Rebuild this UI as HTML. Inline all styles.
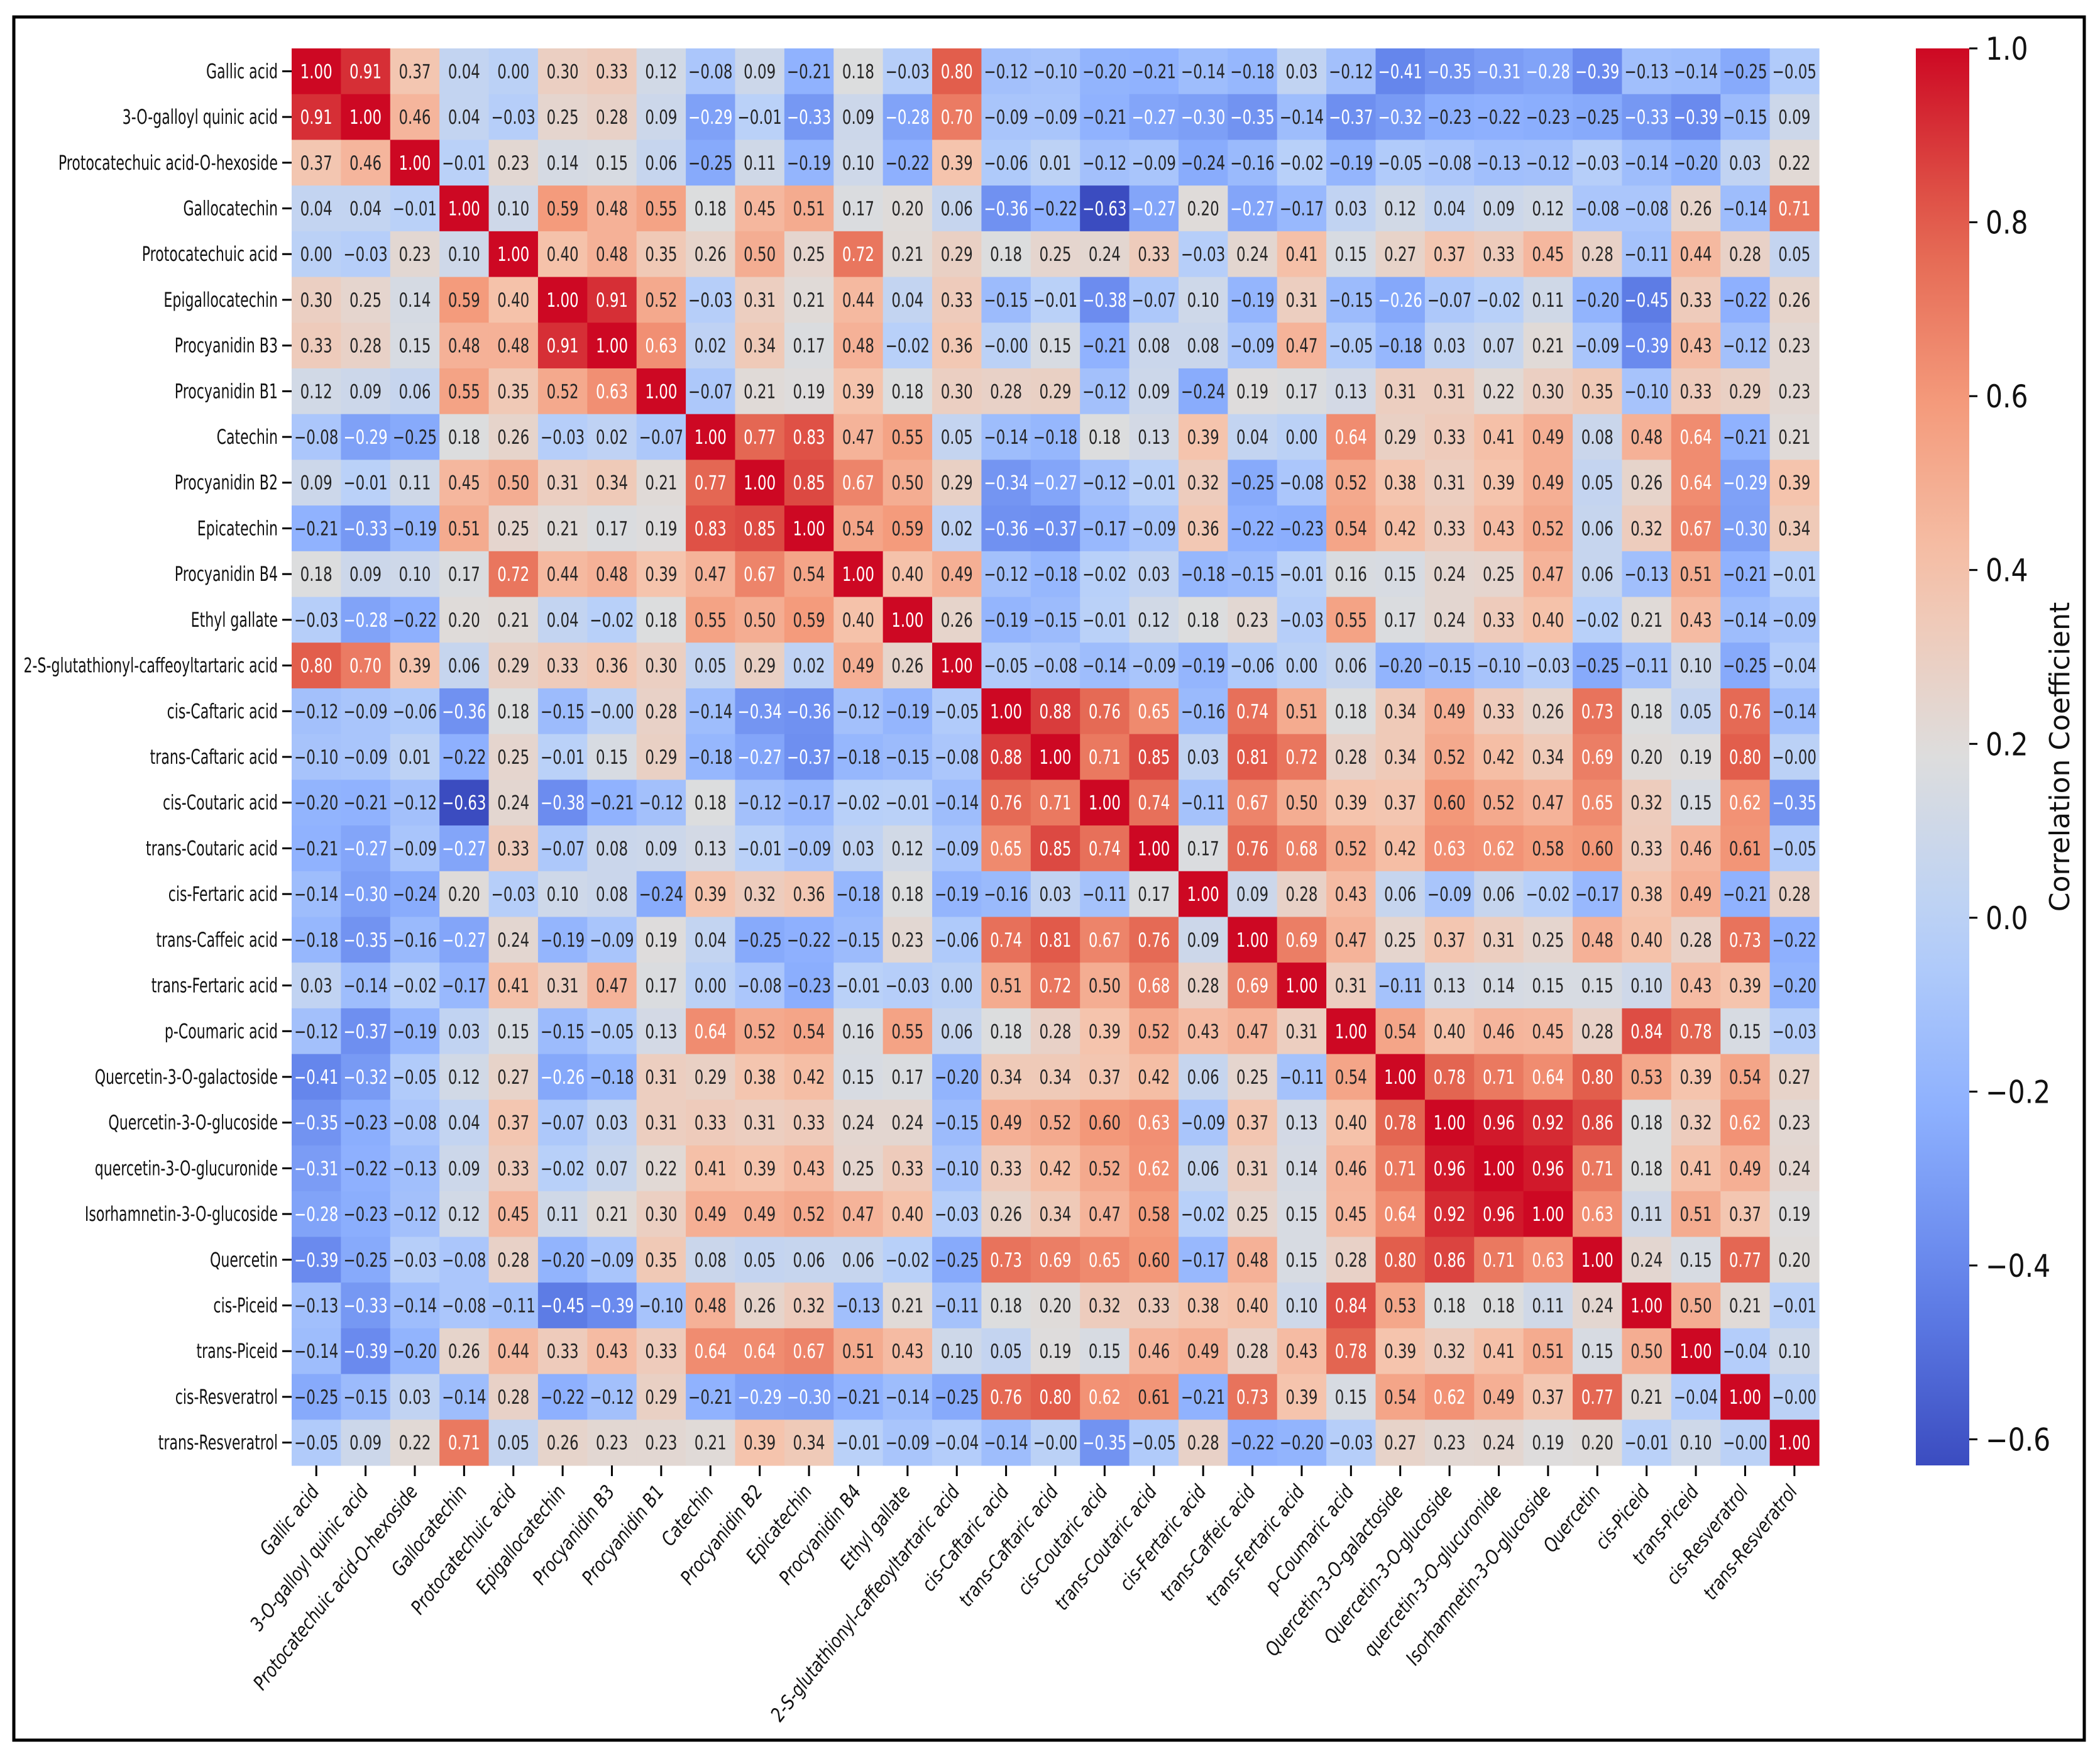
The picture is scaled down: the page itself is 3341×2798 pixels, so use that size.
<!DOCTYPE html>
<html><head><meta charset="utf-8"><style>
html,body{margin:0;padding:0;background:#fff}
svg text{font-family:"DejaVu Sans","Liberation Sans",sans-serif}
</style></head><body>
<svg id="chart" width="3341" height="2793" xmlns="http://www.w3.org/2000/svg">
<rect x="22" y="27" width="3294" height="2741" fill="#fff" stroke="#000" stroke-width="5"/>
<defs><linearGradient id="cbg" x1="0" y1="1" x2="0" y2="0"></linearGradient></defs>
<g id="cells"></g><g id="ylab"></g><g id="xlab"></g><g id="cbar"></g>
</svg>
<script>
const labels=["Gallic acid","3-O-galloyl quinic acid","Protocatechuic acid-O-hexoside","Gallocatechin","Protocatechuic acid","Epigallocatechin","Procyanidin B3","Procyanidin B1","Catechin","Procyanidin B2","Epicatechin","Procyanidin B4","Ethyl gallate","2-S-glutathionyl-caffeoyltartaric acid","cis-Caftaric acid","trans-Caftaric acid","cis-Coutaric acid","trans-Coutaric acid","cis-Fertaric acid","trans-Caffeic acid","trans-Fertaric acid","p-Coumaric acid","Quercetin-3-O-galactoside","Quercetin-3-O-glucoside","quercetin-3-O-glucuronide","Isorhamnetin-3-O-glucoside","Quercetin","cis-Piceid","trans-Piceid","cis-Resveratrol","trans-Resveratrol"];
const rowsText=[
"1.00 0.91 0.37 0.04 0.00 0.30 0.33 0.12 -0.08 0.09 -0.21 0.18 -0.03 0.80 -0.12 -0.10 -0.20 -0.21 -0.14 -0.18 0.03 -0.12 -0.41 -0.35 -0.31 -0.28 -0.39 -0.13 -0.14 -0.25 -0.05",
"0.91 1.00 0.46 0.04 -0.03 0.25 0.28 0.09 -0.29 -0.01 -0.33 0.09 -0.28 0.70 -0.09 -0.09 -0.21 -0.27 -0.30 -0.35 -0.14 -0.37 -0.32 -0.23 -0.22 -0.23 -0.25 -0.33 -0.39 -0.15 0.09",
"0.37 0.46 1.00 -0.01 0.23 0.14 0.15 0.06 -0.25 0.11 -0.19 0.10 -0.22 0.39 -0.06 0.01 -0.12 -0.09 -0.24 -0.16 -0.02 -0.19 -0.05 -0.08 -0.13 -0.12 -0.03 -0.14 -0.20 0.03 0.22",
"0.04 0.04 -0.01 1.00 0.10 0.59 0.48 0.55 0.18 0.45 0.51 0.17 0.20 0.06 -0.36 -0.22 -0.63 -0.27 0.20 -0.27 -0.17 0.03 0.12 0.04 0.09 0.12 -0.08 -0.08 0.26 -0.14 0.71",
"0.00 -0.03 0.23 0.10 1.00 0.40 0.48 0.35 0.26 0.50 0.25 0.72 0.21 0.29 0.18 0.25 0.24 0.33 -0.03 0.24 0.41 0.15 0.27 0.37 0.33 0.45 0.28 -0.11 0.44 0.28 0.05",
"0.30 0.25 0.14 0.59 0.40 1.00 0.91 0.52 -0.03 0.31 0.21 0.44 0.04 0.33 -0.15 -0.01 -0.38 -0.07 0.10 -0.19 0.31 -0.15 -0.26 -0.07 -0.02 0.11 -0.20 -0.45 0.33 -0.22 0.26",
"0.33 0.28 0.15 0.48 0.48 0.91 1.00 0.63 0.02 0.34 0.17 0.48 -0.02 0.36 -0.00 0.15 -0.21 0.08 0.08 -0.09 0.47 -0.05 -0.18 0.03 0.07 0.21 -0.09 -0.39 0.43 -0.12 0.23",
"0.12 0.09 0.06 0.55 0.35 0.52 0.63 1.00 -0.07 0.21 0.19 0.39 0.18 0.30 0.28 0.29 -0.12 0.09 -0.24 0.19 0.17 0.13 0.31 0.31 0.22 0.30 0.35 -0.10 0.33 0.29 0.23",
"-0.08 -0.29 -0.25 0.18 0.26 -0.03 0.02 -0.07 1.00 0.77 0.83 0.47 0.55 0.05 -0.14 -0.18 0.18 0.13 0.39 0.04 0.00 0.64 0.29 0.33 0.41 0.49 0.08 0.48 0.64 -0.21 0.21",
"0.09 -0.01 0.11 0.45 0.50 0.31 0.34 0.21 0.77 1.00 0.85 0.67 0.50 0.29 -0.34 -0.27 -0.12 -0.01 0.32 -0.25 -0.08 0.52 0.38 0.31 0.39 0.49 0.05 0.26 0.64 -0.29 0.39",
"-0.21 -0.33 -0.19 0.51 0.25 0.21 0.17 0.19 0.83 0.85 1.00 0.54 0.59 0.02 -0.36 -0.37 -0.17 -0.09 0.36 -0.22 -0.23 0.54 0.42 0.33 0.43 0.52 0.06 0.32 0.67 -0.30 0.34",
"0.18 0.09 0.10 0.17 0.72 0.44 0.48 0.39 0.47 0.67 0.54 1.00 0.40 0.49 -0.12 -0.18 -0.02 0.03 -0.18 -0.15 -0.01 0.16 0.15 0.24 0.25 0.47 0.06 -0.13 0.51 -0.21 -0.01",
"-0.03 -0.28 -0.22 0.20 0.21 0.04 -0.02 0.18 0.55 0.50 0.59 0.40 1.00 0.26 -0.19 -0.15 -0.01 0.12 0.18 0.23 -0.03 0.55 0.17 0.24 0.33 0.40 -0.02 0.21 0.43 -0.14 -0.09",
"0.80 0.70 0.39 0.06 0.29 0.33 0.36 0.30 0.05 0.29 0.02 0.49 0.26 1.00 -0.05 -0.08 -0.14 -0.09 -0.19 -0.06 0.00 0.06 -0.20 -0.15 -0.10 -0.03 -0.25 -0.11 0.10 -0.25 -0.04",
"-0.12 -0.09 -0.06 -0.36 0.18 -0.15 -0.00 0.28 -0.14 -0.34 -0.36 -0.12 -0.19 -0.05 1.00 0.88 0.76 0.65 -0.16 0.74 0.51 0.18 0.34 0.49 0.33 0.26 0.73 0.18 0.05 0.76 -0.14",
"-0.10 -0.09 0.01 -0.22 0.25 -0.01 0.15 0.29 -0.18 -0.27 -0.37 -0.18 -0.15 -0.08 0.88 1.00 0.71 0.85 0.03 0.81 0.72 0.28 0.34 0.52 0.42 0.34 0.69 0.20 0.19 0.80 -0.00",
"-0.20 -0.21 -0.12 -0.63 0.24 -0.38 -0.21 -0.12 0.18 -0.12 -0.17 -0.02 -0.01 -0.14 0.76 0.71 1.00 0.74 -0.11 0.67 0.50 0.39 0.37 0.60 0.52 0.47 0.65 0.32 0.15 0.62 -0.35",
"-0.21 -0.27 -0.09 -0.27 0.33 -0.07 0.08 0.09 0.13 -0.01 -0.09 0.03 0.12 -0.09 0.65 0.85 0.74 1.00 0.17 0.76 0.68 0.52 0.42 0.63 0.62 0.58 0.60 0.33 0.46 0.61 -0.05",
"-0.14 -0.30 -0.24 0.20 -0.03 0.10 0.08 -0.24 0.39 0.32 0.36 -0.18 0.18 -0.19 -0.16 0.03 -0.11 0.17 1.00 0.09 0.28 0.43 0.06 -0.09 0.06 -0.02 -0.17 0.38 0.49 -0.21 0.28",
"-0.18 -0.35 -0.16 -0.27 0.24 -0.19 -0.09 0.19 0.04 -0.25 -0.22 -0.15 0.23 -0.06 0.74 0.81 0.67 0.76 0.09 1.00 0.69 0.47 0.25 0.37 0.31 0.25 0.48 0.40 0.28 0.73 -0.22",
"0.03 -0.14 -0.02 -0.17 0.41 0.31 0.47 0.17 0.00 -0.08 -0.23 -0.01 -0.03 0.00 0.51 0.72 0.50 0.68 0.28 0.69 1.00 0.31 -0.11 0.13 0.14 0.15 0.15 0.10 0.43 0.39 -0.20",
"-0.12 -0.37 -0.19 0.03 0.15 -0.15 -0.05 0.13 0.64 0.52 0.54 0.16 0.55 0.06 0.18 0.28 0.39 0.52 0.43 0.47 0.31 1.00 0.54 0.40 0.46 0.45 0.28 0.84 0.78 0.15 -0.03",
"-0.41 -0.32 -0.05 0.12 0.27 -0.26 -0.18 0.31 0.29 0.38 0.42 0.15 0.17 -0.20 0.34 0.34 0.37 0.42 0.06 0.25 -0.11 0.54 1.00 0.78 0.71 0.64 0.80 0.53 0.39 0.54 0.27",
"-0.35 -0.23 -0.08 0.04 0.37 -0.07 0.03 0.31 0.33 0.31 0.33 0.24 0.24 -0.15 0.49 0.52 0.60 0.63 -0.09 0.37 0.13 0.40 0.78 1.00 0.96 0.92 0.86 0.18 0.32 0.62 0.23",
"-0.31 -0.22 -0.13 0.09 0.33 -0.02 0.07 0.22 0.41 0.39 0.43 0.25 0.33 -0.10 0.33 0.42 0.52 0.62 0.06 0.31 0.14 0.46 0.71 0.96 1.00 0.96 0.71 0.18 0.41 0.49 0.24",
"-0.28 -0.23 -0.12 0.12 0.45 0.11 0.21 0.30 0.49 0.49 0.52 0.47 0.40 -0.03 0.26 0.34 0.47 0.58 -0.02 0.25 0.15 0.45 0.64 0.92 0.96 1.00 0.63 0.11 0.51 0.37 0.19",
"-0.39 -0.25 -0.03 -0.08 0.28 -0.20 -0.09 0.35 0.08 0.05 0.06 0.06 -0.02 -0.25 0.73 0.69 0.65 0.60 -0.17 0.48 0.15 0.28 0.80 0.86 0.71 0.63 1.00 0.24 0.15 0.77 0.20",
"-0.13 -0.33 -0.14 -0.08 -0.11 -0.45 -0.39 -0.10 0.48 0.26 0.32 -0.13 0.21 -0.11 0.18 0.20 0.32 0.33 0.38 0.40 0.10 0.84 0.53 0.18 0.18 0.11 0.24 1.00 0.50 0.21 -0.01",
"-0.14 -0.39 -0.20 0.26 0.44 0.33 0.43 0.33 0.64 0.64 0.67 0.51 0.43 0.10 0.05 0.19 0.15 0.46 0.49 0.28 0.43 0.78 0.39 0.32 0.41 0.51 0.15 0.50 1.00 -0.04 0.10",
"-0.25 -0.15 0.03 -0.14 0.28 -0.22 -0.12 0.29 -0.21 -0.29 -0.30 -0.21 -0.14 -0.25 0.76 0.80 0.62 0.61 -0.21 0.73 0.39 0.15 0.54 0.62 0.49 0.37 0.77 0.21 -0.04 1.00 -0.00",
"-0.05 0.09 0.22 0.71 0.05 0.26 0.23 0.23 0.21 0.39 0.34 -0.01 -0.09 -0.04 -0.14 -0.00 -0.35 -0.05 0.28 -0.22 -0.20 -0.03 0.27 0.23 0.24 0.19 0.20 -0.01 0.10 -0.00 1.00"];
const cbTicks=[1.0,0.8,0.6,0.4,0.2,0.0,-0.2,-0.4,-0.6];
const vmin=-0.63, vmax=1.0;

const NS="http://www.w3.org/2000/svg";
const L=464,R=2894,T=77,B=2331,n=labels.length;
const cw=(R-L)/n, ch=(B-T)/n;
const CB={x:3048,w:85};
const SX=0.74, SY=0.69, SXL=0.82;
const stops=[[59,76,192],[98,130,234],[141,176,254],[184,208,249],[221,221,221],[245,196,173],[244,154,123],[226,96,77],[205,8,35]];
function cmap(t){t=Math.max(0,Math.min(1,t));const p=t*8,i=Math.min(7,Math.floor(p)),f=p-i;
 return stops[i].map((c,k)=>Math.round(c+(stops[i+1][k]-c)*f));}
function norm(v){return (v-vmin)/(vmax-vmin);}
function yv(v){return B-norm(v)*(B-T);}
function lum(c){const l=c.map(x=>{x/=255;return x<=0.03928?x/12.92:Math.pow((x+0.055)/1.055,2.4)});return 0.2126*l[0]+0.7152*l[1]+0.0722*l[2];}
function fmt(v){return (v<0||Object.is(v,-0))?"\u2212"+Math.abs(v).toFixed(2):v.toFixed(2);}
function mk(t,a,p){const e=document.createElementNS(NS,t);for(const k in a)e.setAttribute(k,a[k]);p.appendChild(e);return e;}
const cells=document.getElementById('cells');
rowsText.forEach((rs,i)=>{rs.trim().split(/\s+/).forEach((s,j)=>{const v=parseFloat(s);const c=cmap(norm(v));
 const r=mk('rect',{x:L+j*cw,y:T+i*ch,width:cw+0.6,height:ch+0.6,fill:`rgb(${c})`},cells);
 
 
 const tx=L+(j+0.5)*cw, ty=T+(i+0.5)*ch+11;
 const t=mk('text',{x:0,y:0,'text-anchor':'middle','font-size':31,fill:lum(c)>0.408?'#262626':'#fff',transform:`translate(${tx} ${ty}) scale(${SX} 1)`},cells);
 t.textContent=fmt(v);
 
 
});});
const yl=document.getElementById('ylab'), xl=document.getElementById('xlab');
labels.forEach((lb,i)=>{const cy=T+(i+0.5)*ch;
 mk('line',{x1:L-15,x2:L,y1:cy,y2:cy,stroke:'#000','stroke-width':3},yl);
 const t=mk('text',{x:0,y:0,'text-anchor':'end','font-size':32,fill:'#111',transform:`translate(${L-22} ${cy+11}) scale(${SY} 1)`},yl);t.textContent=lb;
 
 
 const cx=L+(i+0.5)*cw;
 mk('line',{x1:cx,x2:cx,y1:B,y2:B+17,stroke:'#000','stroke-width':3},xl);
 const u=mk('text',{x:0,y:0,'text-anchor':'end','font-size':31,'font-style':'italic',fill:'#111',transform:`translate(${cx+6} ${B+42}) rotate(-52) scale(${SXL} 1)`},xl);u.textContent=lb;
 
 
});
const g=document.getElementById('cbg');
for(let k=0;k<=20;k++){const c=cmap(k/20);mk('stop',{offset:k/20,'stop-color':`rgb(${c})`},g);}
const cb=document.getElementById('cbar');
const bar=mk('rect',{x:CB.x,y:T,width:CB.w,height:B-T,fill:'url(#cbg)'},cb);


cbTicks.forEach(v=>{const y=yv(v);
 mk('line',{x1:CB.x+CB.w,x2:CB.x+CB.w+13,y1:y,y2:y,stroke:'#000','stroke-width':3},cb);
 const t=mk('text',{x:0,y:0,'font-size':50,fill:'#111',transform:`translate(${CB.x+CB.w+26} ${y+18}) scale(0.85 1)`},cb);t.textContent=(v<0?"\u2212":"")+Math.abs(v).toFixed(1);
 
 
});
const ct=mk('text',{x:0,y:0,'text-anchor':'middle','font-size':44,fill:'#111',transform:`translate(3292 ${(T+B)/2}) rotate(-90)`},cb);
ct.textContent="Correlation Coefficient";


</script>
</body></html>
